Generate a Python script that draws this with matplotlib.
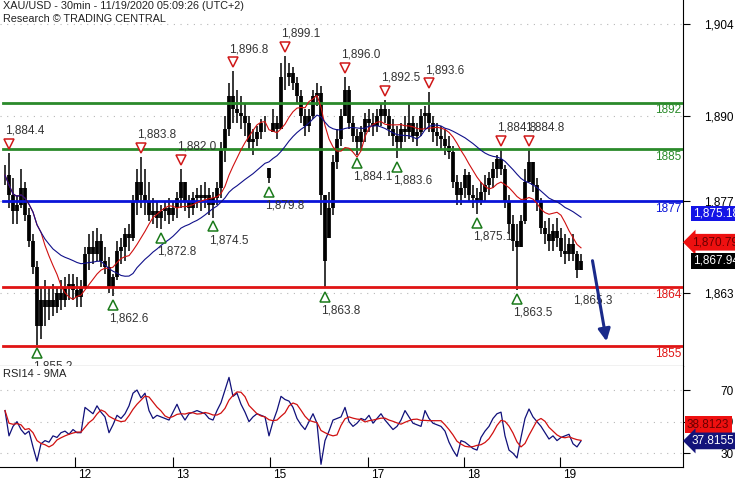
import numpy as np
import pandas as pd
import matplotlib
matplotlib.use("Agg")
import matplotlib.pyplot as plt
from matplotlib import transforms

plt.rcParams['font.family'] = ['Liberation Sans', 'DejaVu Sans']

# 30min bars (every other bar)
hi = [1882.5, 1884.4, 1880.5, 1878.0, 1882.0, 1880.0, 1876.0, 1872.0, 1868.0, 1864.0,
      1865.0, 1864.0, 1864.5, 1864.0, 1865.0, 1865.5, 1866.0, 1866.0, 1865.5, 1865.0,
      1870.0, 1872.0, 1872.5, 1873.0, 1872.0, 1870.0, 1868.5, 1866.0, 1871.0, 1871.5,
      1873.0, 1873.5, 1878.0, 1882.0, 1883.8, 1882.0, 1880.0, 1877.5, 1877.0, 1876.5,
      1877.0, 1877.5, 1877.0, 1878.5, 1882.0, 1880.0, 1878.0, 1878.5, 1879.0, 1879.5,
      1880.0, 1879.0, 1878.5, 1880.0, 1886.0, 1890.0, 1895.0, 1896.8, 1894.0, 1893.0,
      1892.0, 1890.0, 1888.0, 1888.5, 1889.5, 1890.0, 1882.1, 1891.0, 1890.0, 1898.0,
      1899.1, 1898.0, 1897.5, 1896.0, 1894.0, 1891.0, 1891.0, 1894.0, 1895.0, 1894.5,
      1878.0, 1878.5, 1884.0, 1888.0, 1891.0, 1896.0, 1894.5, 1890.0, 1888.0, 1888.5,
      1890.5, 1891.0, 1890.5, 1891.0, 1892.0, 1892.5, 1891.0, 1889.5, 1888.5, 1889.0,
      1890.0, 1892.0, 1890.0, 1889.0, 1891.0, 1891.5, 1893.6, 1890.0, 1889.0, 1888.5,
      1888.0, 1887.0, 1885.5, 1881.0, 1880.0, 1882.0, 1881.5, 1879.5, 1879.0, 1880.0,
      1881.0, 1881.5, 1883.0, 1884.0, 1884.8, 1882.5, 1878.0, 1875.0, 1873.5, 1875.0,
      1882.0, 1884.8, 1883.0, 1880.5, 1877.5, 1874.0, 1874.5, 1873.5, 1874.5, 1873.0,
      1872.0, 1871.5, 1872.0, 1869.5, 1869.0]
lo = [1879.5, 1876.0, 1873.5, 1873.5, 1876.0, 1874.0, 1870.0, 1866.0, 1855.2, 1856.0,
      1858.0, 1859.0, 1859.5, 1860.0, 1860.5, 1861.0, 1862.0, 1862.0, 1861.0, 1861.0,
      1864.0, 1866.5, 1867.5, 1868.0, 1867.0, 1866.0, 1863.0, 1862.6, 1865.0, 1867.5,
      1868.0, 1869.5, 1871.0, 1875.0, 1876.0, 1875.0, 1874.0, 1873.5, 1873.0, 1872.8,
      1874.0, 1873.5, 1874.0, 1874.5, 1876.0, 1875.5, 1874.5, 1875.0, 1876.0, 1875.5,
      1876.0, 1875.0, 1874.5, 1876.5, 1877.5, 1883.0, 1887.0, 1889.0, 1889.0, 1888.0,
      1887.0, 1885.0, 1884.0, 1885.5, 1886.5, 1887.5, 1879.8, 1887.5, 1886.5, 1888.0,
      1894.0, 1894.5, 1894.0, 1892.0, 1889.0, 1887.0, 1887.5, 1889.5, 1891.5, 1875.0,
      1863.8, 1871.5, 1875.0, 1882.0, 1885.5, 1890.0, 1888.0, 1886.0, 1884.1, 1885.0,
      1886.0, 1887.5, 1887.0, 1887.5, 1888.5, 1889.0, 1887.0, 1885.5, 1883.6, 1885.0,
      1886.0, 1886.5, 1886.0, 1885.5, 1887.0, 1888.0, 1887.5, 1886.0, 1885.5, 1885.0,
      1884.0, 1883.5, 1879.0, 1876.5, 1876.5, 1877.5, 1877.0, 1876.0, 1875.1, 1876.5,
      1877.0, 1878.0, 1879.0, 1880.5, 1881.0, 1876.0, 1872.0, 1869.5, 1863.5, 1870.0,
      1873.5, 1880.0, 1878.5, 1875.5, 1872.0, 1870.5, 1869.5, 1869.5, 1870.0, 1868.5,
      1867.5, 1868.0, 1868.0, 1865.3, 1866.5]
close = [1881.0, 1878.0, 1875.5, 1876.5, 1879.0, 1875.0, 1871.0, 1867.0, 1858.0, 1862.0,
         1861.0, 1862.0, 1861.0, 1863.0, 1862.0, 1864.0, 1864.5, 1863.5, 1862.5, 1864.0,
         1869.0, 1870.0, 1869.0, 1871.0, 1868.0, 1867.0, 1864.0, 1865.5, 1869.5, 1870.0,
         1872.0, 1871.5, 1877.0, 1880.0, 1878.0, 1877.0, 1875.0, 1875.5, 1874.5, 1875.5,
         1876.0, 1875.0, 1876.0, 1877.5, 1880.0, 1877.0, 1876.0, 1877.5, 1878.0, 1877.5,
         1878.0, 1876.5, 1877.5, 1879.0, 1885.0, 1888.0, 1893.0, 1891.0, 1890.5, 1890.0,
         1889.0, 1886.0, 1886.5, 1887.5, 1889.0, 1889.0, 1880.5, 1889.0, 1888.0, 1896.0,
         1896.0, 1896.5, 1895.0, 1893.0, 1890.0, 1888.5, 1890.0, 1893.0, 1893.5, 1878.0,
         1868.0, 1876.0, 1883.0, 1886.5, 1890.0, 1894.0, 1889.0, 1887.0, 1886.0, 1887.5,
         1889.5, 1889.0, 1888.5, 1890.0, 1891.0, 1890.0, 1888.0, 1887.0, 1886.0, 1888.0,
         1887.5, 1889.0, 1887.0, 1887.5, 1890.0, 1890.5, 1889.0, 1887.5, 1887.0, 1886.5,
         1885.5, 1884.5, 1880.0, 1878.0, 1879.0, 1881.0, 1878.0, 1877.5, 1877.0, 1878.5,
         1879.5, 1880.5, 1882.0, 1883.5, 1882.0, 1877.0, 1873.5, 1871.0, 1870.0, 1874.0,
         1880.0, 1883.0, 1879.5, 1877.0, 1873.0, 1872.0, 1871.0, 1872.5, 1871.5, 1869.5,
         1869.0, 1870.5, 1869.0, 1866.5, 1867.94]
rsi = [57, 41, 47, 50, 45, 42, 44, 34, 25, 36,
       38, 37, 41, 40, 43, 44, 42, 45, 43, 43,
       59, 57, 55, 60, 56, 53, 43, 48, 54, 52,
       55, 60, 68, 70, 65, 68, 57, 52, 54, 53,
       52, 51, 56, 61, 55, 51, 55, 56, 57, 56,
       55, 52, 51, 57, 62, 70, 78, 66, 68, 61,
       56, 50, 53, 55, 54, 53, 41, 50, 57, 66,
       64, 63, 59, 52, 48, 45, 50, 55, 49, 23,
       38, 44, 51, 52, 53, 59, 50, 47, 49, 52,
       51, 54, 49, 52, 55, 51, 48, 45, 47, 51,
       57, 53, 49, 48, 47, 57, 52, 49, 48, 47,
       44, 37, 32, 28, 38, 37, 35, 33, 32, 40,
       44, 47, 52, 55, 56, 41, 32, 30, 27, 40,
       52, 58, 53, 50, 47, 43, 39, 41, 38, 40,
       41, 42, 36, 34, 37.8]

levels = [1892, 1885, 1877, 1864, 1855]
level_colors = ['#2a8a2a', '#2a8a2a', '#0a14d8', '#e01414', '#e01414']
peaks = [1, 34, 44, 57, 70, 85, 95, 106, 124, 131]
troughs = [8, 27, 39, 52, 66, 80, 88, 98, 118, 128]
last_low = 143
price_ticks = [1863, 1877, 1890, 1904]
day_ticks = [17.5, 42, 66.25, 90.75, 114.75, 138.75]
day_labels = ['12', '13', '15', '17', '18', '19']
arrow_from = (146.75, 1868.4)
arrow_to = (150.5, 1855.3)
ma_slow_last = 1875.18
ma_fast_last = 1870.79
last_price = 1867.94
rsi_last = 37.8155
rsi_ma_last = 38.8123

t = np.arange(len(close))
s = pd.Series(close)
ma_fast = s.rolling(10, min_periods=1).mean()
ma_slow = s.rolling(25, min_periods=1).mean()
rsi_ma = pd.Series(rsi).rolling(5, min_periods=1).mean()
opn = np.clip(np.r_[close[0], close[:-1]], lo, hi)

fig = plt.figure(figsize=(7.35, 4.8), dpi=100)
ax = fig.add_axes([0, 1 - 366 / 480, 683 / 735, 366 / 480])
ax2 = fig.add_axes([0, 1 - 467 / 480, 683 / 735, 101 / 480])

xmin, xmax = -1.25, 169.5
for a in (ax, ax2):
    a.set_xlim(xmin, xmax)
    a.spines['left'].set_visible(False)
    a.spines['top'].set_visible(False)
    a.yaxis.tick_right()
    a.tick_params(axis='y', direction='out', length=5, pad=31.5, labelsize=8.5)
    a.grid(axis='y', color='#b8b8b8', linestyle=(0, (1, 5)), linewidth=0.8)

ax.set_ylim(1851.96, 1907.65)
ax.set_xticks([])
ax.set_yticks(price_ticks)
ax.set_yticklabels([f"{v:,}" for v in price_ticks])
for lab in ax.get_yticklabels():
    lab.set_ha('right')

# bars
ax.vlines(t, lo, hi, color='black', lw=1.1, zorder=2)
ax.vlines(t, np.minimum(opn, close), np.maximum(opn, close), color='black', lw=2.7, zorder=2)
ax.plot(t, ma_fast, color='#d01010', lw=0.8, zorder=4)
ax.plot(t, ma_slow, color='#10108a', lw=0.8, zorder=4)

for lv, c in zip(levels, level_colors):
    ax.axhline(lv, xmin=3 / 683, color=c, lw=2, zorder=3)
    ax.text(0.998, lv - 0.25, str(lv), color=c, fontsize=8.5, ha='right', va='top',
            transform=transforms.blended_transform_factory(ax.transAxes, ax.transData),
            zorder=5)

up = transforms.offset_copy(ax.transData, fig=fig, y=6.5, units='points')
down = transforms.offset_copy(ax.transData, fig=fig, y=-6.2, units='points')
for i in peaks:
    ax.plot(t[i], hi[i], marker='v', ms=7, mfc='white', mec='#d01818', mew=1.1,
            transform=up, zorder=6)
    ax.annotate(f"{hi[i]:,.1f}", (t[i], hi[i]), xytext=(-2.5, 16), textcoords='offset points',
                ha='left', va='center', fontsize=8.5, color='#333333', zorder=6)
for i in troughs:
    ax.plot(t[i], lo[i], marker='^', ms=7, mfc='white', mec='#1a7a1a', mew=1.1,
            transform=down, zorder=6)
    ax.annotate(f"{lo[i]:,.1f}", (t[i], lo[i]), xytext=(-2.5, -16), textcoords='offset points',
                ha='left', va='center', fontsize=8.5, color='#333333', zorder=6)
ax.annotate(f"{lo[last_low]:,.1f}", (t[last_low], lo[last_low]), xytext=(-2.5, -16),
            textcoords='offset points', ha='left', va='center', fontsize=8.5, color='#333333')

ax.annotate('', xy=arrow_to, xytext=arrow_from,
            arrowprops=dict(arrowstyle='-|>', lw=2.2, color='#1a2a8a', mutation_scale=18),
            zorder=6)

ax.text(0.004, 0.996, "XAU/USD - 30min - 11/19/2020 05:09:26 (UTC+2)\nResearch \u00a9 TRADING CENTRAL",
        transform=ax.transAxes, ha='left', va='top', fontsize=7.8, color='#222222',
        linespacing=1.3)

bt = transforms.blended_transform_factory(ax.transAxes, ax.transData)
ax.text(693 / 683, ma_slow_last, f"{ma_slow_last:,.2f}", transform=bt, color='white',
        fontsize=8.5, va='center', ha='left', clip_on=False,
        bbox=dict(boxstyle='square,pad=0.15', fc='#1414e6', ec='none'))
ax.text(692 / 683, ma_fast_last, f"{ma_fast_last:,.2f}", transform=bt, color='#6a0000',
        fontsize=8.5, va='center', ha='left', clip_on=False,
        bbox=dict(boxstyle='larrow,pad=0.2', fc='#ee1010', ec='none'))
ax.text(693 / 683, last_price, f"{last_price:,.2f}", transform=bt, color='white',
        fontsize=8.5, va='center', ha='left', clip_on=False,
        bbox=dict(boxstyle='square,pad=0.15', fc='black', ec='none'))

# RSI panel
ax2.set_ylim(21.3, 85.2)
ax2.plot(t, rsi, color='#10107a', lw=0.9)
ax2.plot(t, rsi_ma, color='#d01010', lw=0.9)
ax2.set_yticks([30, 50, 70])
for lab in ax2.get_yticklabels():
    lab.set_ha('right')
ax2.text(0.004, 0.92, "RSI14 - 9MA", transform=ax2.transAxes, ha='left', va='center',
         fontsize=8, color='#222222')
ax2.set_xticks(day_ticks)
ax2.set_xticklabels(day_labels)
ax2.tick_params(axis='x', direction='in', length=7, pad=1.5, labelsize=8.5)
shift = transforms.ScaledTranslation(3 / 100, 0, fig.dpi_scale_trans)
for lab in ax2.get_xticklabels():
    lab.set_ha('left')
    lab.set_transform(lab.get_transform() + shift)

bt2 = transforms.blended_transform_factory(ax2.transAxes, ax2.transData)
ax2.text(687 / 683, rsi_last + 10.2, f"{rsi_ma_last:.4f}", transform=bt2, color='#6a0000',
         fontsize=8.5, va='center', ha='left', clip_on=False,
         bbox=dict(boxstyle='square,pad=0.2', fc='#ee1010', ec='none'))
ax2.text(692 / 683, rsi_last, f"{rsi_last:.4f}", transform=bt2, color='white',
         fontsize=8.5, va='center', ha='left', clip_on=False,
         bbox=dict(boxstyle='larrow,pad=0.2', fc='#14147a', ec='none'))

fig.savefig('out.png', dpi=100)
